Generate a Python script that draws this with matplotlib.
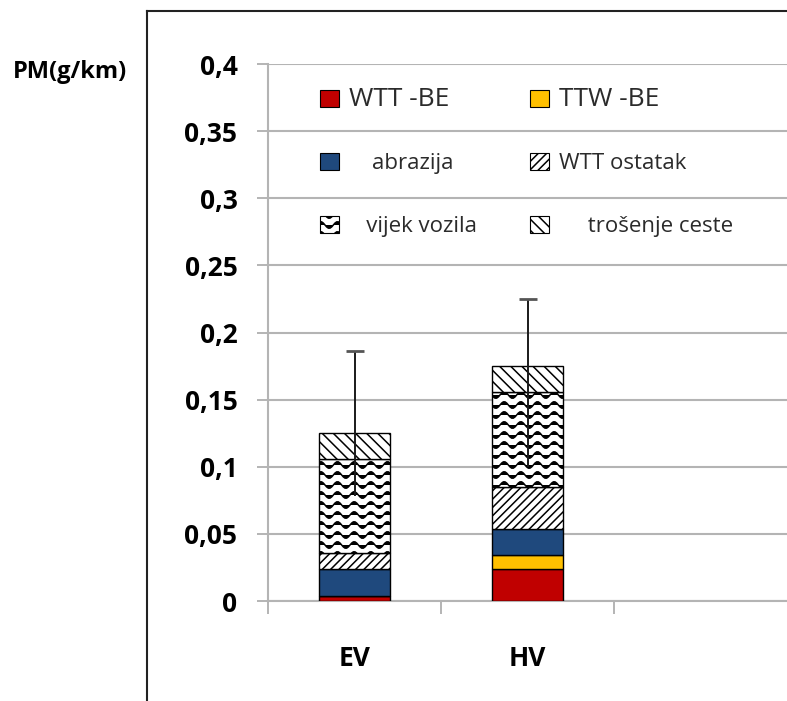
import warnings
import numpy as np
import matplotlib
matplotlib.use('Agg')
import matplotlib.pyplot as plt
from matplotlib import hatch as mhatch
from matplotlib.path import Path
from matplotlib.patches import Patch
from matplotlib.lines import Line2D

warnings.filterwarnings('ignore')

# data (g/km)
categories = ['EV', 'HV']
wtt_be = [0.004, 0.024]
ttw_be = [0.0, 0.010]
abrazija = [0.020, 0.020]
wtt_ostatak = [0.012, 0.031]
vijek_vozila = [0.070, 0.071]
trosenje_ceste = [0.019, 0.019]
err_low = [0.078, 0.100]
err_high = [0.186, 0.225]

yticks = [0, 0.05, 0.1, 0.15, 0.2, 0.25, 0.3, 0.35, 0.4]
ytick_labels = ['0', '0,05', '0,1', '0,15', '0,2', '0,25', '0,3', '0,35', '0,4']

series_labels = ['WTT -BE', 'TTW -BE', '    abrazija', 'WTT ostatak',
                 '   vijek vozila', '     trošenje ceste']


# wavy hatch for "vijek vozila"
class WaveHatch(mhatch.HatchPatternBase):
    def __init__(self, hatch, density):
        self.num_lines = int(hatch.count('~') * density * 5 / 3)
        self.num_pts = 61
        self.num_vertices = self.num_lines * self.num_pts

    def set_vertices_and_codes(self, vertices, codes):
        x = np.linspace(0, 1, self.num_pts)
        for i in range(self.num_lines):
            s = slice(i * self.num_pts, (i + 1) * self.num_pts)
            vertices[s, 0] = x
            vertices[s, 1] = (i + 0.5) / self.num_lines + 0.033 * np.sin(2 * np.pi * 6 * x)
            codes[s] = Path.LINETO
            codes[i * self.num_pts] = Path.MOVETO


mhatch._hatch_types.append(WaveHatch)

plt.rcParams['font.family'] = ['Open Sans', 'DejaVu Sans']
plt.rcParams['hatch.linewidth'] = 1.1

grid_col = '#b4b4b4'

fig = plt.figure(figsize=(7.87, 7.01), dpi=100)
ax = fig.add_axes([268 / 787, 100 / 701, 519 / 787, 537 / 701])

x = np.arange(len(categories))
width = 0.41
styles = [
    (wtt_be, dict(color='#C00000')),
    (ttw_be, dict(color='#FFC000')),
    (abrazija, dict(color='#1F497D')),
    (wtt_ostatak, dict(color='white', hatch='////')),
    (vijek_vozila, dict(color='white', hatch='~')),
    (trosenje_ceste, dict(color='white', hatch='\\\\\\')),
]
bottom = np.zeros(len(categories))
for vals, st in styles:
    vals = np.array(vals)
    ax.bar(x, vals, width, bottom=bottom, edgecolor='black', linewidth=1.0,
           zorder=3, **st)
    bottom += vals

# error bars (cap only on top)
ax.vlines(x, err_low, err_high, color='#1a1a1a', linewidth=1.4, zorder=4)
ax.plot(x, err_high, ls='none', marker='_', markersize=13, markeredgewidth=2,
        color='#555555', zorder=4)

ax.set_ylim(0, 0.4)
ax.set_xlim(-0.5, 2.5)
ax.set_yticks(yticks)
ax.set_yticklabels(ytick_labels, fontsize=19, fontweight='bold')
ax.set_xticks(x)
ax.set_xticklabels(categories, fontsize=19, fontweight='bold')
ax.set_xticks([-0.5, 0.5, 1.5], minor=True)
ax.tick_params(axis='y', direction='out', length=8, width=1.4, color=grid_col,
               pad=14)
ax.tick_params(axis='x', which='major', length=0, pad=32)
ax.tick_params(axis='x', which='minor', direction='out', length=9, width=1.4,
               color=grid_col)
ax.yaxis.grid(True, color=grid_col, linewidth=1.5, zorder=0)
ax.set_axisbelow(True)
for s in ['top', 'right']:
    ax.spines[s].set_visible(False)
for s in ['left', 'bottom']:
    ax.spines[s].set_color(grid_col)
    ax.spines[s].set_linewidth(1.5)

# legend
colors_h = [st for _, st in styles]
handles = [Patch(facecolor=st['color'], edgecolor='black', linewidth=0.8,
                 hatch=st.get('hatch')) for st in colors_h]
order = [0, 2, 4, 1, 3, 5]
leg = ax.legend([handles[i] for i in order], [series_labels[i] for i in order],
                ncol=2, loc='upper left', bbox_to_anchor=(0.1, 0.957),
                frameon=False, fontsize=16, handlelength=0.85,
                handleheight=0.8, handletextpad=0.45, labelspacing=1.85,
                columnspacing=2.4, borderpad=0, borderaxespad=0)
for t in leg.get_texts():
    t.set_color('#2b2b2b')
    if t.get_text() in ('WTT -BE', 'TTW -BE'):
        t.set_fontsize(19)

fig.text(70 / 787, 1 - 72 / 701, 'PM(g/km)', fontsize=17, fontweight='bold',
         ha='center', va='center')

# outer frame
fx = 147 / 787
fy = 1 - 11 / 701
fig.add_artist(Line2D([fx, fx], [0, fy], color='#222222', lw=1.5,
                      transform=fig.transFigure))
fig.add_artist(Line2D([fx, 1], [fy, fy], color='#222222', lw=1.5,
                      transform=fig.transFigure))

fig.savefig('out.png', dpi=100)
